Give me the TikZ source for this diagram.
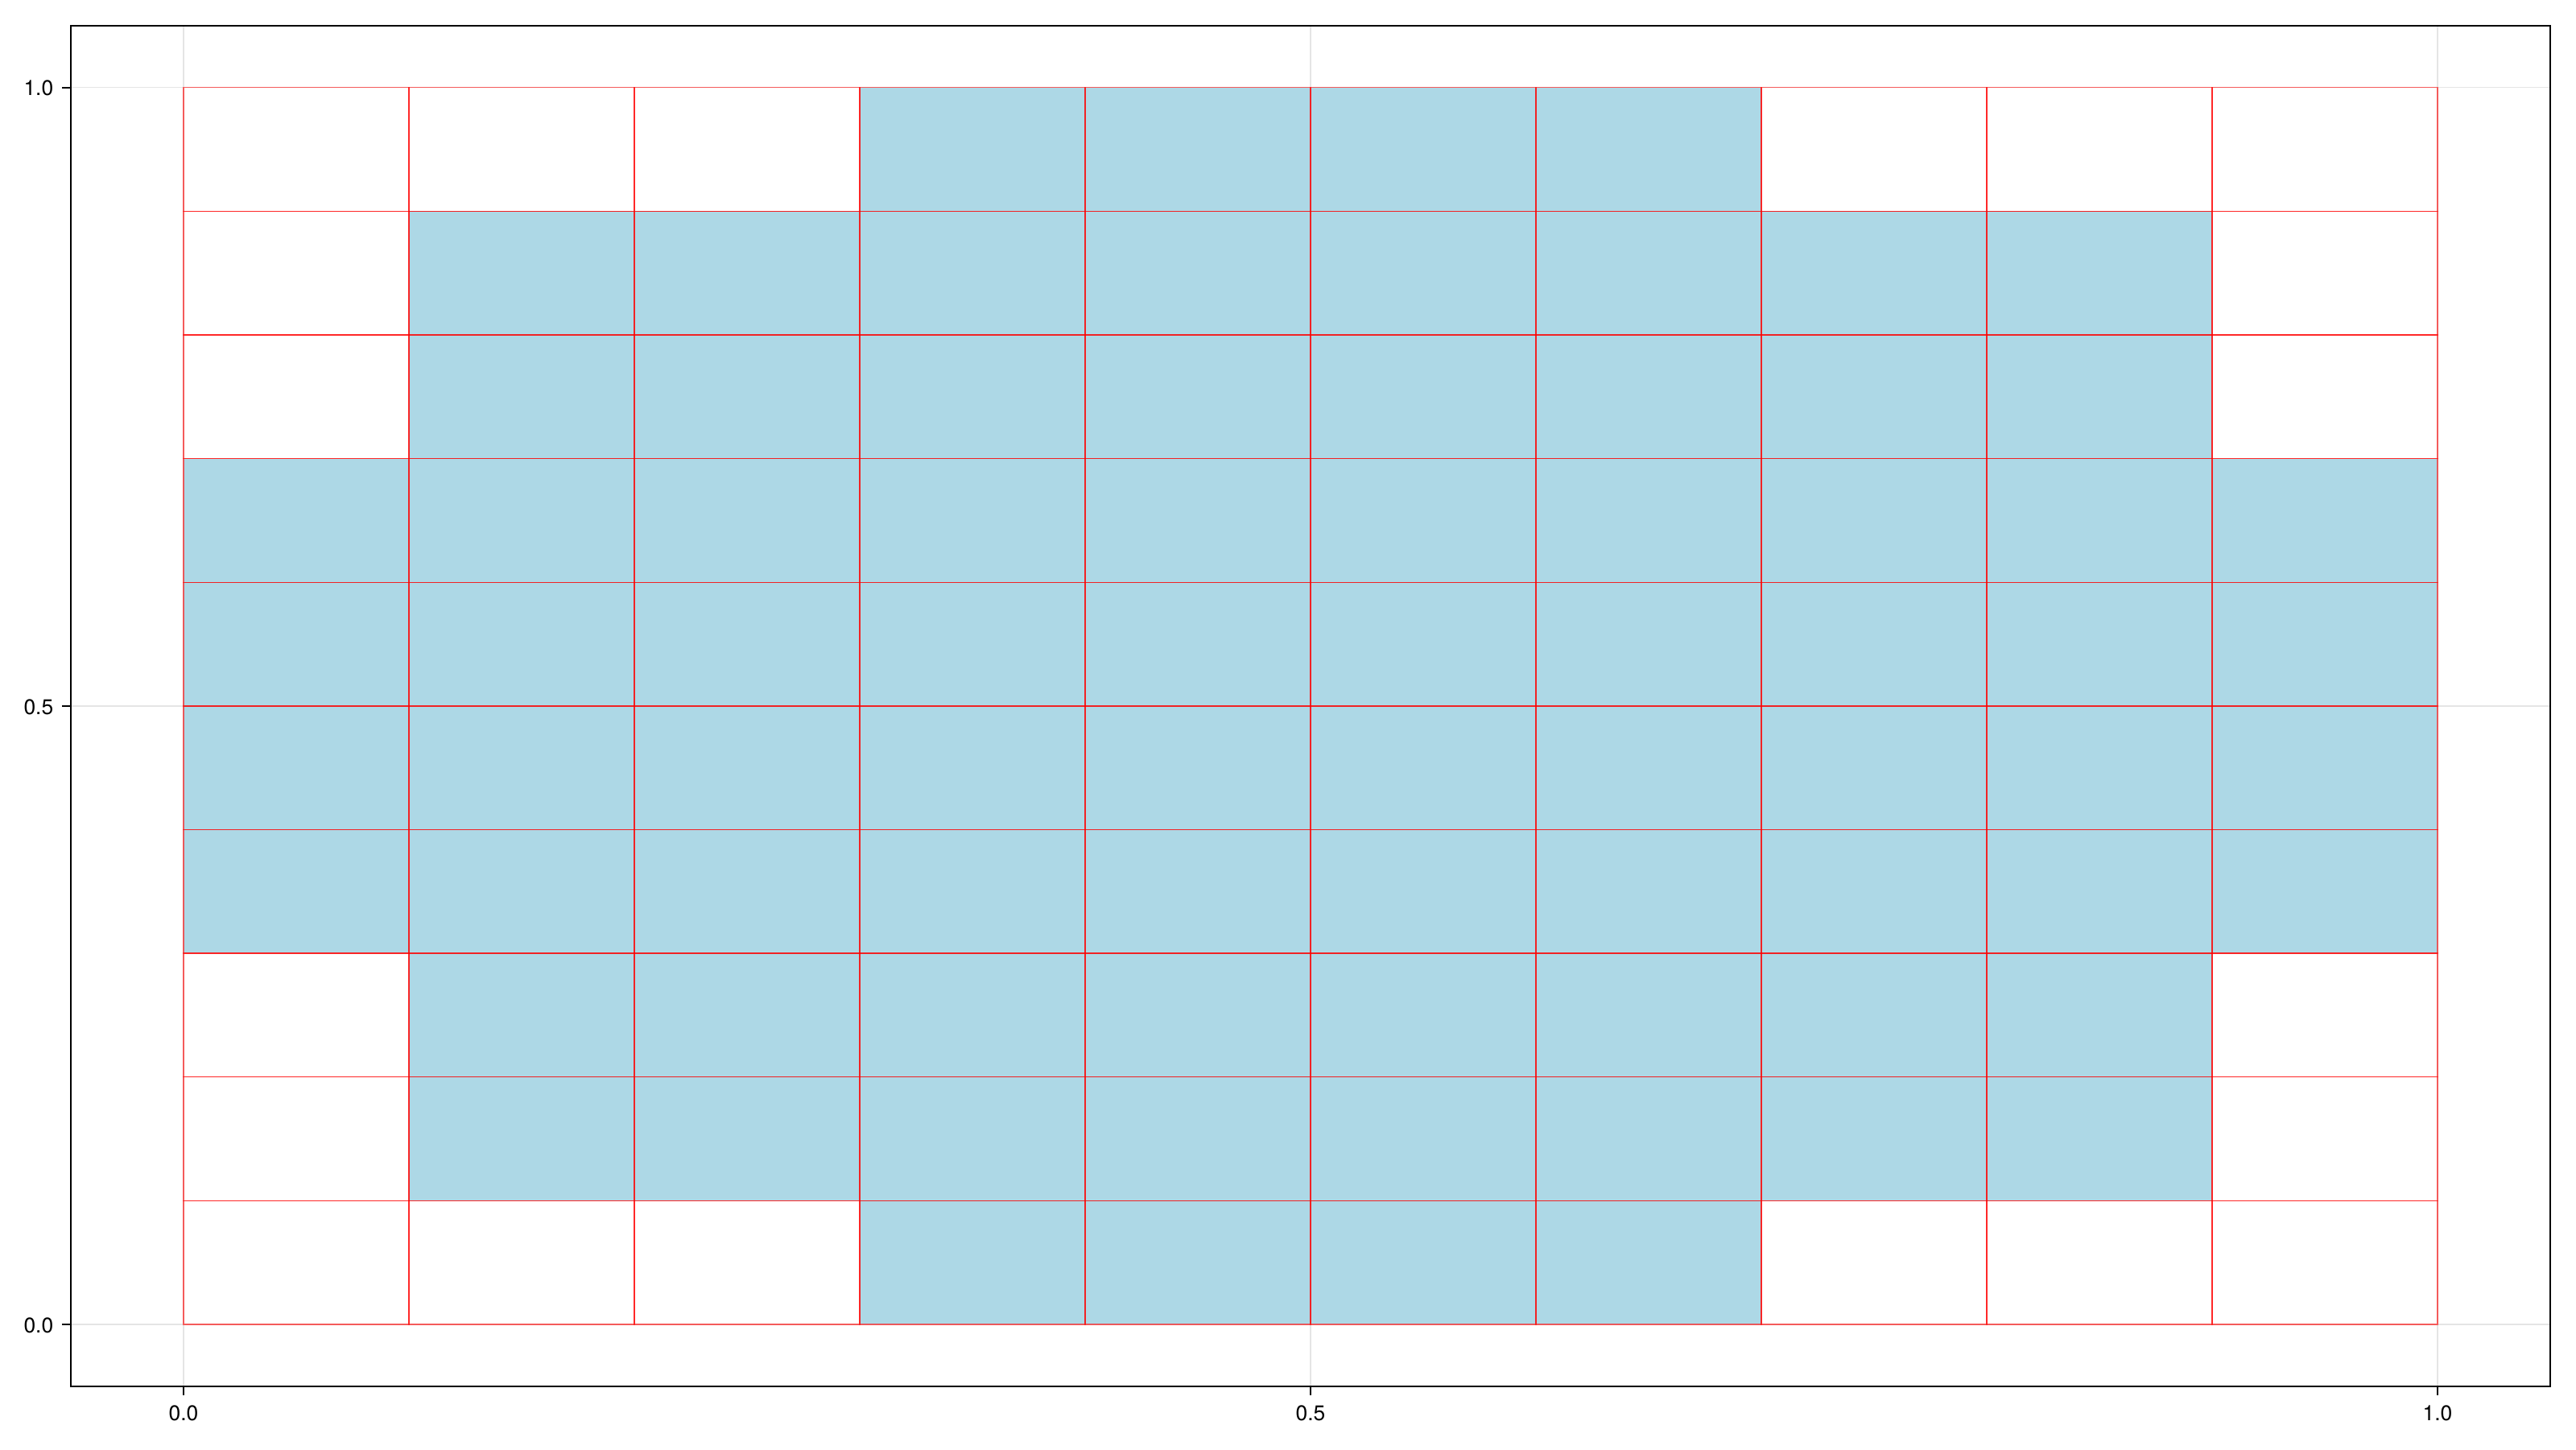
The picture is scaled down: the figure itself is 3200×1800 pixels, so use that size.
\documentclass[tikz,border=0pt]{standalone}
\usepackage{fontspec}
\setmainfont{TeX Gyre Heros}
\definecolor{cellblue}{RGB}{173,216,230}
\definecolor{gridgray}{RGB}{229,229,229}
\begin{document}
\begin{tikzpicture}[x=0.25pt,y=-0.25pt,
  frame/.style={draw=black,line width=0.5pt},
  tickmark/.style={draw=black,line width=0.5pt},
  gridline/.style={draw=gridgray,line width=0.33pt},
  cellfill/.style={fill=cellblue,draw=none},
  cellline/.style={draw=red,draw opacity=0.6,line width=0.33pt},
  ticklabel/.style={font=\fontsize{6.6pt}{7.5pt}\selectfont,inner sep=0pt}]
\useasboundingbox (0,0) rectangle (3200,1800);
\fill[white] (0,0) rectangle (3200,1800);
% grid lines
\foreach \gx in {228,1628,3028} \draw[gridline] (\gx,32) -- (\gx,1722);
\foreach \gy in {108.7,876.85,1645} \draw[gridline] (88,\gy) -- (3168,\gy);
\begin{scope}[shift={(228,1645)},x=700pt,y=384.075pt]
  % filled cells: row index j from bottom
  \foreach \j/\a/\b in {0/3/6,1/1/8,2/1/8,3/0/9,4/0/9,5/0/9,6/0/9,7/1/8,8/1/8,9/3/6}
    \foreach \i in {\a,...,\b}
      \path[cellfill] (\i/10,\j/10) rectangle ++(0.1,0.1);
  \foreach \j in {0,...,9}
    \foreach \i in {0,...,9}
      \draw[cellline] (\i/10,\j/10) rectangle ++(0.1,0.1);
\end{scope}
% frame
\draw[frame] (88,32) rectangle (3168,1722);
% ticks and labels
\foreach \gx/\t [count=\k] in {228/0.0,1628/0.5,3028/1.0}{
  \coordinate (xt\k) at (\gx,1722);
  \draw[tickmark] (xt\k) -- ++(0,11);
  \node[ticklabel,anchor=center] (xl\k) at (\gx,1755) {\t};
}
\foreach \gy/\t [count=\k] in {108.7/1.0,876.85/0.5,1645/0.0}{
  \coordinate (yt\k) at (88,\gy);
  \draw[tickmark] (yt\k) -- ++(-11,0);
  \node[ticklabel,anchor=east] (yl\k) at (67,\gy+1) {\t};
}
\end{tikzpicture}
\end{document}
